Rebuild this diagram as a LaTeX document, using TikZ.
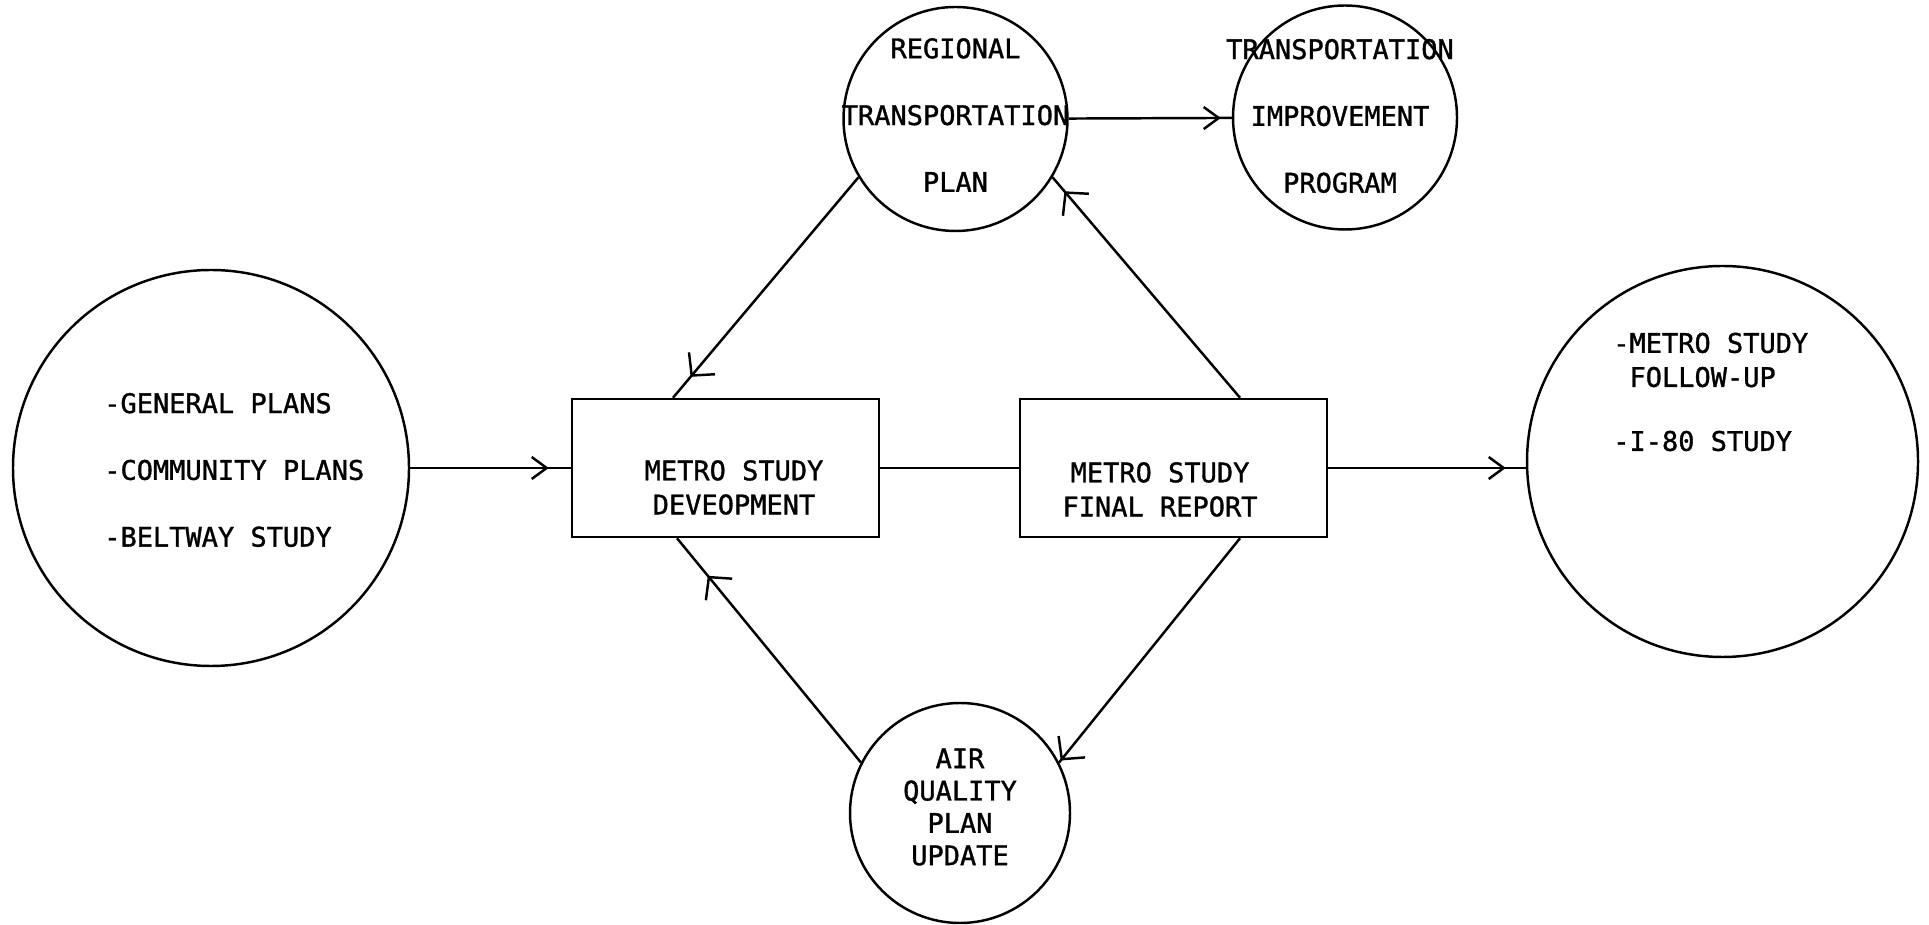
\documentclass[tikz,border=0pt]{standalone}
\usepackage{fontspec}
\newfontfamily\dejamono[FakeBold=1.2]{DejaVu Sans Mono}
\usetikzlibrary{arrows.meta,decorations.markings}

\tikzset{
  txt/.style={font=\dejamono\fontsize{7.68}{9.7}\selectfont, align=center, inner sep=0pt},
  wide/.style={font=\dejamono\fontsize{7.68}{19}\selectfont},
  bubble/.style={circle, draw, inner sep=0pt},
  stage/.style={rectangle, draw, minimum width=3.07cm, minimum height=1.38cm},
  flow/.style={postaction={decorate}, decoration={markings,
      mark=at position #1 with {\arrow{Straight Barb[length=1.5mm,width=2.2mm]}}}},
  feed/.style={postaction={decorate}, decoration={markings,
      mark=at position #1 with {\arrow{Straight Barb[length=1.6mm,width=3.4mm]}}}},
}

\begin{document}
\begin{tikzpicture}[line width=0.7pt]
\useasboundingbox (0,0) rectangle (19.29,9.24);

% the circles
\node at (2.11,4.56) [bubble, minimum size=3.96cm] (gen) {};
\node at (9.555,8.05) [bubble, minimum size=2.24cm] (rtp) {};
\node at (13.45,8.065) [bubble, minimum size=2.24cm] (tip) {};
\node at (17.225,4.625) [bubble, minimum size=3.91cm] (fol) {};
\node at (9.60,1.11) [bubble, minimum size=2.2cm] (aq) {};

% the two boxes
\node at (7.255,4.56) [stage] (dev) {};
\node at (11.735,4.56) [stage] (rep) {};

% texts
\node at (1.03,4.54) [txt, wide, anchor=west, align=left] (gentext) {-GENERAL PLANS\\-COMMUNITY PLANS\\-BELTWAY STUDY};
\node at (9.555,8.09) [txt, wide] (rtptext) {REGIONAL\\TRANSPORTATION\\PLAN};
\node at (13.40,8.08) [txt, wide] (tiptext) {TRANSPORTATION\\IMPROVEMENT\\PROGRAM};
\node at (7.34,4.365) [txt] (devtext) {METRO STUDY\\DEVEOPMENT};
\node at (11.60,4.345) [txt] (reptext) {METRO STUDY\\FINAL REPORT};
\node at (16.12,5.32) [txt, anchor=west, align=left] (foltext) {-METRO STUDY\\\phantom{-}FOLLOW-UP\\[8.5pt]-I-80 STUDY};
\node at (9.60,1.17) [txt, font=\dejamono\fontsize{7.68}{9.2}\selectfont] (aqtext) {AIR\\QUALITY\\PLAN\\UPDATE};

% straight connections
\draw[flow=-2.2mm] (gen) -- (dev);
\draw (dev) -- (rep);
\draw[flow=-2mm] (rep.east) -- (rep.east -| fol.west);
\draw[flow=-1.1mm] (rtp) -- (tip);

% the loop round the boxes
\draw[feed=-2.7mm] (rtp.211) -- ([xshift=-5.25mm]dev.north);
\draw[feed=-1.8mm] ([xshift=6.65mm]rep.north) -- (rtp.329);
\draw[feed=-0.2mm] ([xshift=6.65mm]rep.south) -- (aq.27);
\draw[feed=-4.8mm] (aq.153) -- ([xshift=-4.85mm]dev.south);

\end{tikzpicture}
\end{document}
